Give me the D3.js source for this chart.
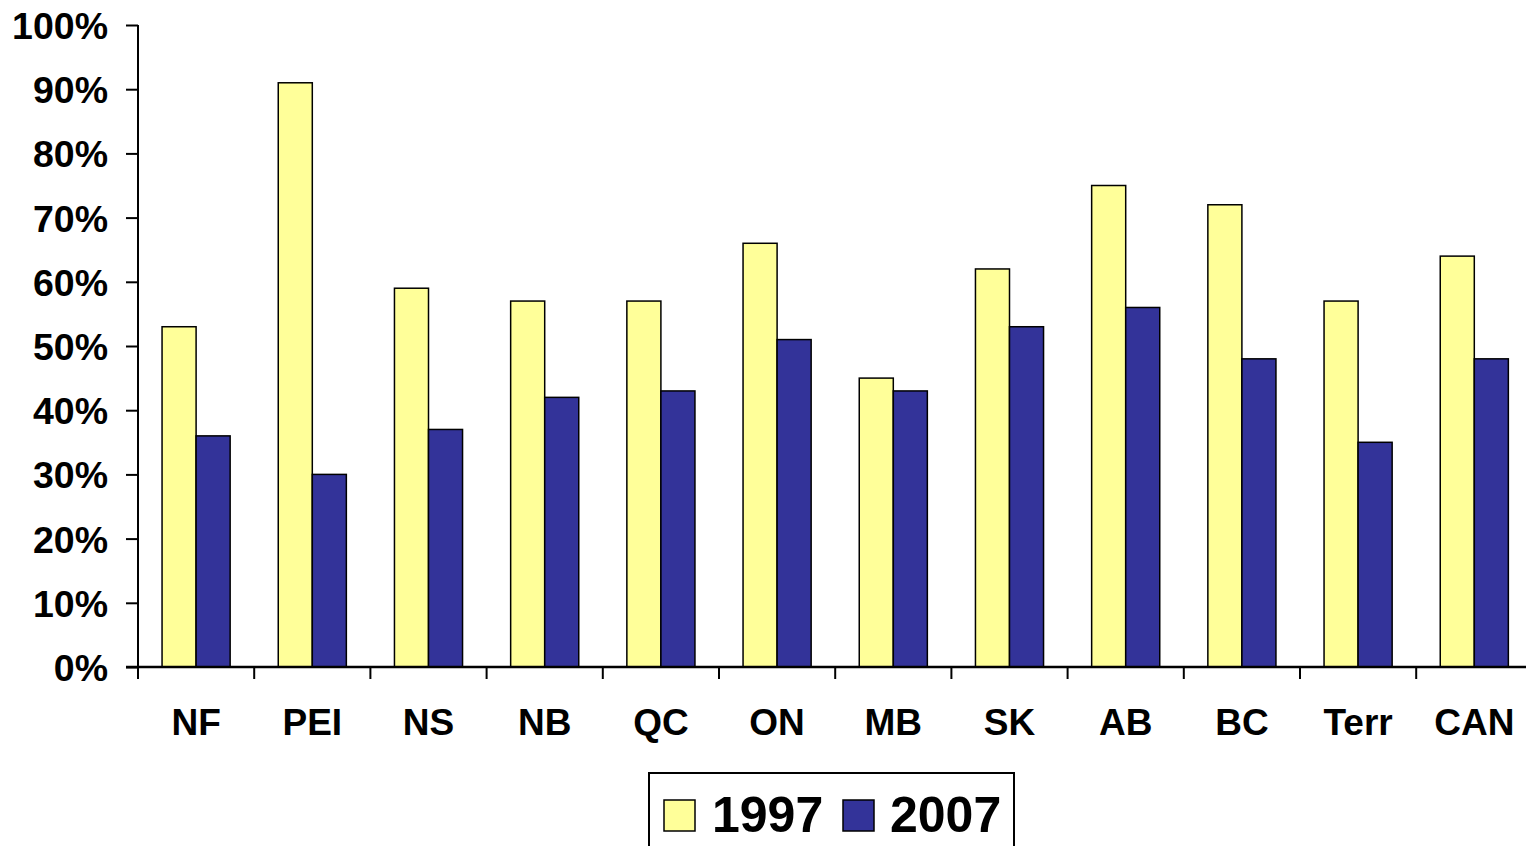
<!DOCTYPE html>
<html>
<head>
<meta charset="utf-8">
<script src="https://d3js.org/d3.v7.min.js"></script>
<style>
  body { margin: 0; background: #fff; overflow: hidden; }
  text { font-family: "Liberation Sans", Arial, sans-serif; font-weight: bold; }
</style>
</head>
<body>
<svg id="chart" width="1526" height="846"></svg>
<script>
  const categories = ["NF", "PEI", "NS", "NB", "QC", "ON", "MB", "SK", "AB", "BC", "Terr", "CAN"];
  const series = ["1997", "2007"];
  const values1997 = [53, 91, 59, 57, 57, 66, 45, 62, 75, 72, 57, 64];
  const values2007 = [36, 30, 37, 42, 43, 51, 43, 53, 56, 48, 35, 48];
  const yTicks = [0, 10, 20, 30, 40, 50, 60, 70, 80, 90, 100];
  const colors = ["#FFFF99", "#333399"];

  const svg = d3.select("#chart");
  const LEFT = 138, RIGHT = 1532.4, TOP = 25, BOTTOM = 667;

  const x0 = d3.scaleBand().domain(categories).range([LEFT, RIGHT]);
  const bw = x0.bandwidth();
  const x1 = d3.scaleBand().domain(series).range([bw * 0.207, bw * 0.793]);
  const y = d3.scaleLinear().domain([0, 100]).range([BOTTOM, TOP]);

  const rows = categories.map((c, i) => ({ cat: c, vals: [values1997[i], values2007[i]] }));

  // bars
  const groups = svg.selectAll("g.grp")
    .data(rows)
    .enter()
    .append("g")
    .attr("class", "grp")
    .attr("transform", d => `translate(${x0(d.cat)},0)`);

  groups.selectAll("rect")
    .data(d => d.vals.map((v, j) => ({ s: series[j], v: v, j: j })))
    .enter()
    .append("rect")
    .attr("x", d => x1(d.s))
    .attr("y", d => y(d.v))
    .attr("width", x1.bandwidth())
    .attr("height", d => BOTTOM - y(d.v))
    .attr("fill", d => colors[d.j])
    .attr("stroke", "#000")
    .attr("stroke-width", 1.5);

  // y axis
  const yAxis = d3.axisLeft(y)
    .tickValues(yTicks)
    .tickFormat(d => d + "%")
    .tickSize(12)
    .tickPadding(18);
  const yg = svg.append("g").attr("transform", `translate(${LEFT},0)`).call(yAxis);
  yg.select(".domain").attr("d", `M0,${TOP}V${BOTTOM}`).attr("stroke-width", 2);
  yg.selectAll(".tick line").attr("stroke-width", 2);
  yg.selectAll(".tick text")
    .attr("font-size", 37.5)
    .attr("font-family", "Liberation Sans, Arial, sans-serif")
    .attr("font-weight", "bold")
    .attr("fill", "#000")
    .attr("dy", "0.36em");

  // x axis
  const xg = svg.append("g").attr("transform", `translate(0,${BOTTOM})`);
  xg.append("line")
    .attr("x1", LEFT - 12).attr("x2", 1526)
    .attr("y1", 0).attr("y2", 0)
    .attr("stroke", "#000").attr("stroke-width", 2.5);
  xg.selectAll("line.tk")
    .data(categories)
    .enter()
    .append("line")
    .attr("class", "tk")
    .attr("x1", d => x0(d)).attr("x2", d => x0(d))
    .attr("y1", 0).attr("y2", 12)
    .attr("stroke", "#000").attr("stroke-width", 2);
  xg.selectAll("text")
    .data(categories)
    .enter()
    .append("text")
    .attr("x", d => x0(d) + bw / 2)
    .attr("y", 68)
    .attr("text-anchor", "middle")
    .attr("font-size", 37)
    .attr("fill", "#000")
    .text(d => d);

  // legend
  const lg = svg.append("g").attr("transform", "translate(649,773)");
  lg.append("rect")
    .attr("x", 0).attr("y", 0)
    .attr("width", 365).attr("height", 100)
    .attr("fill", "#fff").attr("stroke", "#000").attr("stroke-width", 2);
  const items = [{ s: series[0], x: 15, tx: 63 }, { s: series[1], x: 194, tx: 241 }];
  items.forEach((it, j) => {
    lg.append("rect")
      .attr("x", it.x).attr("y", 27)
      .attr("width", 31).attr("height", 31)
      .attr("fill", colors[j]).attr("stroke", "#000").attr("stroke-width", 1.5);
    lg.append("text")
      .attr("x", it.tx).attr("y", 59)
      .attr("font-size", 50)
      .attr("fill", "#000")
      .text(it.s);
  });
</script>
</body>
</html>
